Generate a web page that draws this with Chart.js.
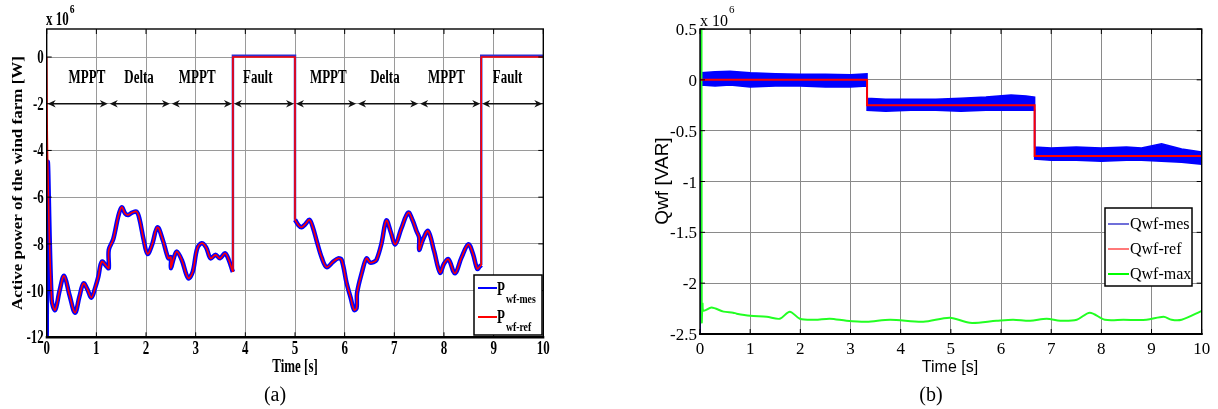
<!DOCTYPE html>
<html>
<head>
<meta charset="utf-8">
<script src="https://cdn.jsdelivr.net/npm/chart.js@4.4.1/dist/chart.umd.min.js"></script>
<style>
  body { margin: 0; background: #fff; width: 1218px; height: 409px; overflow: hidden; position: relative; }
  #wa { position: absolute; left: 0; top: 0; width: 600px; height: 409px; }
  #wb { position: absolute; left: 600px; top: 0; width: 618px; height: 409px; }
</style>
</head>
<body>
<div id="wa"><canvas id="chartA"></canvas></div>
<div id="wb"><canvas id="chartB"></canvas></div>
<script>
// ---- data (a): active power of the wind farm, x 10^6 W ----
const xTicks = [0, 1, 2, 3, 4, 5, 6, 7, 8, 9, 10];
const yTicksA = [0, -2, -4, -6, -8, -10, -12];

// first MPPT/Delta/MPPT section, 0 - 3.75 s
const pTime1 = [0, 0.02, 0.1, 0.17, 0.26, 0.35, 0.46, 0.57, 0.66, 0.74, 0.82, 0.9, 0.98, 1.04, 1.11, 1.21, 1.25, 1.25, 1.34, 1.44,
  1.51, 1.58, 1.64, 1.72, 1.81, 1.87, 1.95, 2.03, 2.12, 2.23, 2.34, 2.45, 2.5, 2.5, 2.56, 2.62, 2.72, 2.85, 2.94, 3.03,
  3.12, 3.21, 3.3, 3.4, 3.49, 3.59, 3.66, 3.74, 3.75];
const pRef1 = [0, -4.5, -10.4, -10.83, -10.0, -9.37, -10.2, -10.95, -10.25, -9.69, -9.95, -10.3, -9.85, -9.4, -8.76, -8.97, -9.04, -8.26, -7.8, -6.83,
  -6.43, -6.7, -6.76, -6.66, -6.62, -6.95, -7.8, -8.43, -8.05, -7.29, -7.85, -8.62, -8.57, -9.04, -8.6, -8.33, -8.69, -9.47, -9.2, -8.2,
  -7.97, -8.15, -8.62, -8.47, -8.62, -8.4, -8.65, -9.15, -9.2];

// second MPPT/Delta/MPPT section, 5 - 8.75 s
const pTime2 = [5, 5.07, 5.13, 5.21, 5.29, 5.36, 5.44, 5.54, 5.64, 5.77, 5.87, 5.94, 6.04, 6.12, 6.19, 6.24, 6.25, 6.35, 6.44, 6.51,
  6.58, 6.64, 6.74, 6.84, 6.93, 7.02, 7.14, 7.28, 7.37, 7.45, 7.5, 7.5, 7.58, 7.68, 7.8, 7.92, 8.0, 8.09, 8.22, 8.35,
  8.49, 8.58, 8.67, 8.72, 8.75];
const pRef2 = [-6.97, -7.2, -7.29, -7.15, -6.97, -7.3, -7.9, -8.6, -9.0, -8.76, -8.62, -8.69, -9.69, -10.3, -10.83, -10.75, -10.1, -9.2, -8.62, -8.8,
  -8.78, -8.69, -8.0, -7.0, -7.5, -8.02, -7.35, -6.66, -7.0, -7.47, -7.72, -8.26, -7.8, -7.45, -8.3, -9.23, -8.85, -8.66, -9.26, -8.6,
  -8.02, -8.4, -9.07, -8.97, -8.9];

// fault sections (null = gap)
const faultTime = [3.75, 3.75, 5, 5, 6.9, 8.75, 8.75, 10];
const faultRef = [-9.2, 0, 0, -6.97, null, -8.9, 0, 0];
const faultMes = [-9.2, 0.05, 0.05, -6.97, null, -8.9, 0.05, 0.05];
const mesStart = -12; // measured value at t = 0

const modeNames = ['MPPT', 'Delta', 'MPPT', 'Fault', 'MPPT', 'Delta', 'MPPT', 'Fault'];
const modeLabelT = [0.81, 1.86, 3.03, 4.25, 5.67, 6.81, 8.05, 9.28];
const modeBounds = [0, 1.25, 2.5, 3.75, 5, 6.25, 7.5, 8.75, 10];
const modeLabelLevel = -1.1;
const arrowLevel = -2;

// ---- data (b): reactive power, x 10^6 VAR ----
const yTicksB = [0.5, 0, -0.5, -1, -1.5, -2, -2.5];
const qRefT = [0, 3.33, 3.33, 6.67, 6.67, 10];
const qRef = [0, 0, -0.25, -0.25, -0.75, -0.75];
// measured band (upper / lower edge of the noisy trace)
const qMesT = [0, 0.02, 0.3, 0.6, 1.0, 1.5, 2.0, 2.5, 3.0, 3.33, 3.33, 3.7, 4.2, 4.7, 5.2, 5.7, 6.2, 6.5, 6.67,
  6.67, 7.0, 7.5, 8.0, 8.5, 8.8, 9.2, 9.6, 10];
const qMesUp = [0.5, 0.07, 0.08, 0.085, 0.07, 0.06, 0.055, 0.055, 0.05, 0.06, -0.18, -0.19, -0.19, -0.19, -0.18, -0.17, -0.15, -0.16, -0.17,
  -0.66, -0.67, -0.66, -0.67, -0.66, -0.67, -0.63, -0.68, -0.71];
const qMesLo = [-2.5, -0.05, -0.06, -0.05, -0.07, -0.06, -0.06, -0.07, -0.07, -0.06, -0.3, -0.31, -0.3, -0.3, -0.31, -0.3, -0.3, -0.3, -0.3,
  -0.78, -0.79, -0.79, -0.8, -0.79, -0.79, -0.8, -0.81, -0.83];
const qMaxT = [0.03, 0.035, 0.05, 0.07, 0.23, 0.47, 0.66, 0.73, 1.0, 1.33, 1.59, 1.79, 1.99, 2.29, 2.59, 2.92, 3.32, 3.79, 4.45, 4.98,
  5.38, 5.91, 6.24, 6.58, 6.91, 7.18, 7.51, 7.77, 8.07, 8.44, 8.9, 9.24, 9.4, 9.6, 9.97, 10];
const qMax = [0.5, -2.38, -2.2, -2.27, -2.24, -2.28, -2.29, -2.3, -2.32, -2.33, -2.35, -2.28, -2.35, -2.36, -2.35, -2.37, -2.38, -2.36, -2.38, -2.34,
  -2.39, -2.37, -2.36, -2.37, -2.35, -2.37, -2.36, -2.29, -2.36, -2.36, -2.36, -2.33, -2.36, -2.36, -2.28, -2.27];

const serif = '"Liberation Serif", "Times New Roman", serif';
const sans = '"Liberation Sans", Arial, sans-serif';

function pts(xs, ys) {
  return xs.map(function(x, i) { return {x: x, y: ys[i]}; });
}

// text with optional horizontal squeeze (the original figure is narrowed)
function drawText(ctx, s, x, y, font, align, sx) {
  ctx.save();
  ctx.font = font;
  ctx.fillStyle = '#000';
  ctx.textAlign = align || 'left';
  ctx.textBaseline = 'alphabetic';
  ctx.translate(x, y);
  ctx.scale(sx || 1, 1);
  ctx.fillText(s, 0, 0);
  ctx.restore();
}

function textWidth(ctx, s, font, sx) {
  ctx.save();
  ctx.font = font;
  const w = ctx.measureText(s).width * (sx || 1);
  ctx.restore();
  return w;
}

function drawRotated(ctx, s, x, y, font, sy) {
  ctx.save();
  ctx.translate(x, y);
  ctx.rotate(-Math.PI / 2);
  ctx.scale(1, sy || 1);
  ctx.font = font;
  ctx.fillStyle = '#000';
  ctx.textAlign = 'center';
  ctx.textBaseline = 'middle';
  ctx.fillText(s, 0, 0);
  ctx.restore();
}

// box round the plot with small inner ticks
function drawFrame(chart, bottomWidth) {
  const ctx = chart.ctx, a = chart.chartArea, xs = chart.scales.x, ys = chart.scales.y;
  ctx.save();
  ctx.strokeStyle = '#000';
  ctx.lineWidth = 1;
  ctx.beginPath();
  xs.ticks.forEach(function(t) {
    const px = xs.getPixelForValue(t.value);
    ctx.moveTo(px, a.top); ctx.lineTo(px, a.top + 5);
    ctx.moveTo(px, a.bottom); ctx.lineTo(px, a.bottom - 5);
  });
  ys.ticks.forEach(function(t) {
    const py = ys.getPixelForValue(t.value);
    ctx.moveTo(a.right, py); ctx.lineTo(a.right - 5, py);
    ctx.moveTo(a.left, py); ctx.lineTo(a.left + 5, py);
  });
  ctx.stroke();
  ctx.lineWidth = 1.4;
  ctx.strokeRect(a.left, a.top, a.right - a.left, a.bottom - a.top);
  ctx.lineWidth = bottomWidth;
  ctx.beginPath();
  ctx.moveTo(a.left - 1, a.bottom);
  ctx.lineTo(a.right + 1, a.bottom);
  ctx.stroke();
  ctx.restore();
}

function drawTickLabels(chart, font, sx, xBase) {
  const ctx = chart.ctx, a = chart.chartArea, xs = chart.scales.x, ys = chart.scales.y;
  xs.ticks.forEach(function(t) {
    drawText(ctx, String(t.value), xs.getPixelForValue(t.value), a.bottom + xBase, font, 'center', sx);
  });
  ys.ticks.forEach(function(t) {
    drawText(ctx, String(t.value), a.left - 3, ys.getPixelForValue(t.value) + 6, font, 'right', sx);
  });
}

function arrowHead(ctx, x, y, dir) {
  ctx.beginPath();
  ctx.moveTo(x, y);
  ctx.lineTo(x - dir * 8, y - 3.8);
  ctx.lineTo(x - dir * 5.5, y);
  ctx.lineTo(x - dir * 8, y + 3.8);
  ctx.closePath();
  ctx.fill();
}

const decorA = {
  id: 'decorA',
  afterDatasetsDraw: function(chart) {
    const ctx = chart.ctx, xs = chart.scales.x, ys = chart.scales.y;
    drawFrame(chart, 2.5);

    // operating mode arrows
    ctx.save();
    ctx.strokeStyle = '#111';
    ctx.fillStyle = '#111';
    ctx.lineWidth = 1.6;
    const ay = ys.getPixelForValue(arrowLevel);
    for (let i = 0; i < modeBounds.length - 1; i++) {
      const x0 = xs.getPixelForValue(modeBounds[i]) + 1;
      const x1 = xs.getPixelForValue(modeBounds[i + 1]) - 1;
      ctx.beginPath();
      ctx.moveTo(x0 + 4, ay);
      ctx.lineTo(x1 - 4, ay);
      ctx.stroke();
      arrowHead(ctx, x0, ay, -1);
      arrowHead(ctx, x1, ay, 1);
    }
    ctx.restore();
    modeNames.forEach(function(n, i) {
      drawText(ctx, n, xs.getPixelForValue(modeLabelT[i]), ys.getPixelForValue(modeLabelLevel), 'bold 18px ' + serif, 'center', 0.72);
    });

    // legend
    ctx.save();
    ctx.fillStyle = '#fff';
    ctx.fillRect(474, 275, 68, 60);
    ctx.strokeStyle = '#000';
    ctx.lineWidth = 1.5;
    ctx.strokeRect(474, 275, 68, 60);
    ctx.lineWidth = 2;
    ctx.strokeStyle = '#0000ff';
    ctx.beginPath(); ctx.moveTo(478, 288); ctx.lineTo(497, 288); ctx.stroke();
    ctx.strokeStyle = '#ff0000';
    ctx.beginPath(); ctx.moveTo(478, 317); ctx.lineTo(497, 317); ctx.stroke();
    ctx.restore();
    const pf = 'bold 18px ' + serif, sf = 'bold 13px ' + serif;
    const pw = textWidth(ctx, 'P', pf, 0.72);
    drawText(ctx, 'P', 497, 295, pf, 'left', 0.72);
    drawText(ctx, 'wf-mes', 498 + pw, 303, sf, 'left', 0.75);
    drawText(ctx, 'P', 497, 323, pf, 'left', 0.72);
    drawText(ctx, 'wf-ref', 498 + pw, 331, sf, 'left', 0.75);
  },
  afterDraw: function(chart) {
    const ctx = chart.ctx;
    drawTickLabels(chart, 'bold 18px ' + serif, 0.72, 17);
    drawText(ctx, 'Time [s]', 295, 372, 'bold 18px ' + serif, 'center', 0.72);
    drawText(ctx, '(a)', 275, 401, '20px ' + serif, 'center', 1);
    drawRotated(ctx, 'Active power of the wind farm [W]', 18, 183, 'bold 17px ' + serif, 0.85);
    const ef = 'bold 18px ' + serif;
    drawText(ctx, 'x 10', 46, 25, ef, 'left', 0.72);
    drawText(ctx, '6', 47 + textWidth(ctx, 'x 10', ef, 0.72), 13, 'bold 12px ' + serif, 'left', 0.8);
  }
};

const decorB = {
  id: 'decorB',
  afterDatasetsDraw: function(chart) {
    const ctx = chart.ctx;
    drawFrame(chart, 2);

    // legend
    ctx.save();
    ctx.fillStyle = '#fff';
    ctx.fillRect(505, 208, 87, 78);
    ctx.strokeStyle = '#000';
    ctx.lineWidth = 1.5;
    ctx.strokeRect(505, 208, 87, 78);
    const items = [['Qwf-mes', '#1010c0', 1.2, 224], ['Qwf-ref', '#ff2020', 1.2, 249], ['Qwf-max', '#00ff00', 2, 274]];
    items.forEach(function(it) {
      ctx.strokeStyle = it[1];
      ctx.lineWidth = it[2];
      ctx.beginPath(); ctx.moveTo(508, it[3]); ctx.lineTo(529, it[3]); ctx.stroke();
      drawText(ctx, it[0], 530, it[3] + 5, '16px ' + serif, 'left', 1);
    });
    ctx.restore();
  },
  afterDraw: function(chart) {
    const ctx = chart.ctx;
    drawTickLabels(chart, '17px ' + serif, 1, 20);
    drawText(ctx, 'Time [s]', 350, 372, '16px ' + sans, 'center', 1);
    drawText(ctx, '(b)', 331, 401, '20px ' + serif, 'center', 1);
    drawRotated(ctx, 'Qwf [VAR]', 63, 181, '19px ' + sans, 1);
    const ef = '16px ' + serif;
    drawText(ctx, 'x 10', 100, 26, ef, 'left', 1);
    drawText(ctx, '6', 101 + textWidth(ctx, 'x 10', ef, 1), 13, '11px ' + serif, 'left', 1);
  }
};

function linearAxis(min, max, ticks, fitW, fitH, gridColor) {
  return {
    type: 'linear',
    min: min,
    max: max,
    afterBuildTicks: function(s) { s.ticks = ticks.map(function(v) { return {value: v}; }); },
    afterFit: function(s) {
      if (fitW !== null) s.width = fitW;
      if (fitH !== null) s.height = fitH;
    },
    ticks: {display: false},
    grid: {color: gridColor, lineWidth: 1, drawTicks: false},
    border: {display: false}
  };
}

// chart (a)
const mes1 = [{x: 0, y: mesStart}].concat(pts(pTime1, pRef1).slice(1));
new Chart(document.getElementById('chartA').getContext('2d'), {
  type: 'line',
  data: {
    datasets: [
      {label: 'Pwf-ref', data: pts(pTime1, pRef1), borderColor: '#ff0000', borderWidth: 1.6, pointRadius: 0, tension: 0.35},
      {label: 'Pwf-ref', data: pts(pTime2, pRef2), borderColor: '#ff0000', borderWidth: 1.6, pointRadius: 0, tension: 0.35},
      {label: 'Pwf-ref', data: pts(faultTime, faultRef), borderColor: '#ff0000', borderWidth: 1.6, pointRadius: 0, tension: 0},
      {label: 'Pwf-mes', data: mes1, borderColor: '#0000ff', borderWidth: 4.5, pointRadius: 0, tension: 0.35},
      {label: 'Pwf-mes', data: pts(pTime2, pRef2), borderColor: '#0000ff', borderWidth: 4.5, pointRadius: 0, tension: 0.35},
      {label: 'Pwf-mes', data: pts(faultTime, faultMes), borderColor: '#3030d0', borderWidth: 2.5, pointRadius: 0, tension: 0}
    ]
  },
  options: {
    responsive: true,
    maintainAspectRatio: false,
    animation: false,
    events: [],
    layout: {padding: {left: 0, right: 56.7, top: 29, bottom: 0}},
    plugins: {legend: {display: false}, tooltip: {enabled: false}},
    scales: {
      x: linearAxis(0, 10, xTicks, null, 71.7, '#9a9a9a'),
      y: linearAxis(-12, 1.2, yTicksA, 46.7, null, '#9a9a9a')
    }
  },
  plugins: [decorA]
});

// chart (b)
new Chart(document.getElementById('chartB').getContext('2d'), {
  type: 'line',
  data: {
    datasets: [
      {label: 'Qwf-ref', data: pts(qRefT, qRef), borderColor: '#ff0000', borderWidth: 2, pointRadius: 0, tension: 0},
      {label: 'Qwf-max', data: pts(qMaxT, qMax), borderColor: '#22ff22', borderWidth: 2, pointRadius: 0, tension: 0.3},
      {label: 'Qwf-mes', data: pts(qMesT, qMesUp), borderColor: '#0000ff', backgroundColor: '#0000ff', borderWidth: 1.5, pointRadius: 0, tension: 0, fill: '+1'},
      {label: 'Qwf-mes', data: pts(qMesT, qMesLo), borderColor: '#0000ff', borderWidth: 1.5, pointRadius: 0, tension: 0, fill: false}
    ]
  },
  options: {
    responsive: true,
    maintainAspectRatio: false,
    animation: false,
    events: [],
    layout: {padding: {left: 0, right: 16.3, top: 29, bottom: 0}},
    plugins: {legend: {display: false}, tooltip: {enabled: false}},
    scales: {
      x: linearAxis(0, 10, xTicks, null, 75, '#8a8a8a'),
      y: linearAxis(-2.5, 0.5, yTicksB, 100, null, '#8a8a8a')
    }
  },
  plugins: [decorB]
});
</script>
</body>
</html>
